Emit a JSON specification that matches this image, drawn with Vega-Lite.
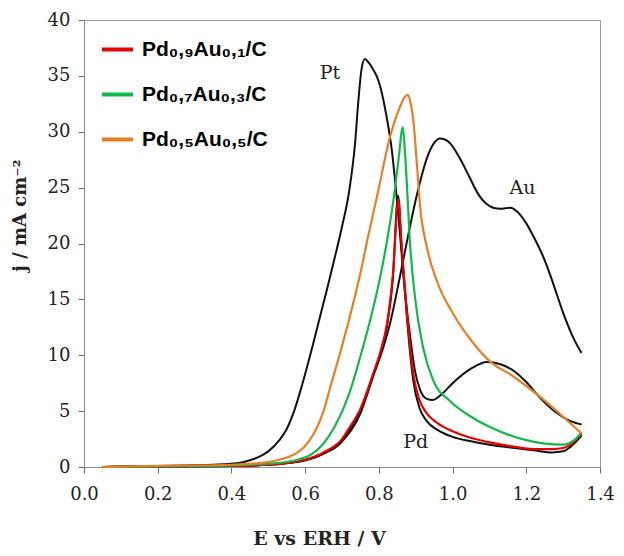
{
  "$schema": "https://vega.github.io/schema/vega-lite/v6.json",
  "width": 516,
  "height": 447,
  "autosize": {"type": "none"},
  "padding": {"left": 84, "top": 20, "right": 24, "bottom": 89},
  "background": "white",
  "config": {
    "view": {"stroke": "#9a9a9a", "strokeWidth": 1},
    "axis": {
      "grid": false,
      "domainColor": "#8a8a8a",
      "tickColor": "#6a6a6a",
      "tickSize": 6,
      "labelFont": "DejaVu Serif",
      "labelFontSize": 18,
      "labelColor": "#222222",
      "titleFont": "DejaVu Serif",
      "titleFontSize": 19,
      "titleFontWeight": "bold",
      "titleColor": "#222222"
    }
  },
  "datasets": {
    "black": [
      {"s": "Pt", "E": 0.05, "j": 0.0}, {"s": "Pt", "E": 0.1, "j": 0.05}, {"s": "Pt", "E": 0.2, "j": 0.1}, {"s": "Pt", "E": 0.3, "j": 0.15}, {"s": "Pt", "E": 0.38, "j": 0.25}, {"s": "Pt", "E": 0.42, "j": 0.35}, {"s": "Pt", "E": 0.45, "j": 0.6}, {"s": "Pt", "E": 0.48, "j": 1.0}, {"s": "Pt", "E": 0.5, "j": 1.4}, {"s": "Pt", "E": 0.53, "j": 2.4}, {"s": "Pt", "E": 0.55, "j": 3.4}, {"s": "Pt", "E": 0.57, "j": 5.0}, {"s": "Pt", "E": 0.594, "j": 7.6}, {"s": "Pt", "E": 0.62, "j": 10.8}, {"s": "Pt", "E": 0.64, "j": 13.4}, {"s": "Pt", "E": 0.66, "j": 16.0}, {"s": "Pt", "E": 0.68, "j": 18.7}, {"s": "Pt", "E": 0.7, "j": 21.5}, {"s": "Pt", "E": 0.72, "j": 24.8}, {"s": "Pt", "E": 0.735, "j": 28.8}, {"s": "Pt", "E": 0.745, "j": 33.0}, {"s": "Pt", "E": 0.753, "j": 35.6}, {"s": "Pt", "E": 0.762, "j": 36.5}, {"s": "Pt", "E": 0.772, "j": 36.2}, {"s": "Pt", "E": 0.784, "j": 35.6}, {"s": "Pt", "E": 0.795, "j": 34.9}, {"s": "Pt", "E": 0.805, "j": 33.9}, {"s": "Pt", "E": 0.815, "j": 32.4}, {"s": "Pt", "E": 0.825, "j": 30.6}, {"s": "Pt", "E": 0.835, "j": 28.4}, {"s": "Pt", "E": 0.845, "j": 25.3}, {"s": "Pt", "E": 0.857, "j": 21.0}, {"s": "Pt", "E": 0.866, "j": 17.4}, {"s": "Pt", "E": 0.875, "j": 14.4}, {"s": "Pt", "E": 0.884, "j": 11.9}, {"s": "Pt", "E": 0.898, "j": 8.6}, {"s": "Pt", "E": 0.912, "j": 6.9}, {"s": "Pt", "E": 0.93, "j": 6.1}, {"s": "Pt", "E": 0.947, "j": 6.0}, {"s": "Pt", "E": 0.97, "j": 6.5}, {"s": "Pt", "E": 1.0, "j": 7.5}, {"s": "Pt", "E": 1.05, "j": 8.8}, {"s": "Pt", "E": 1.093, "j": 9.4}, {"s": "Pt", "E": 1.13, "j": 9.2}, {"s": "Pt", "E": 1.17, "j": 8.5}, {"s": "Pt", "E": 1.2, "j": 7.6}, {"s": "Pt", "E": 1.24, "j": 6.1}, {"s": "Pt", "E": 1.28, "j": 4.9}, {"s": "Pt", "E": 1.32, "j": 4.1}, {"s": "Pt", "E": 1.35, "j": 3.8},
      {"s": "Au", "E": 0.05, "j": 0.0}, {"s": "Au", "E": 0.2, "j": 0.05}, {"s": "Au", "E": 0.4, "j": 0.1}, {"s": "Au", "E": 0.5, "j": 0.2}, {"s": "Au", "E": 0.6, "j": 0.6}, {"s": "Au", "E": 0.65, "j": 1.2}, {"s": "Au", "E": 0.7, "j": 2.3}, {"s": "Au", "E": 0.75, "j": 4.8}, {"s": "Au", "E": 0.785, "j": 8.2}, {"s": "Au", "E": 0.81, "j": 10.5}, {"s": "Au", "E": 0.83, "j": 12.8}, {"s": "Au", "E": 0.857, "j": 17.0}, {"s": "Au", "E": 0.88, "j": 20.8}, {"s": "Au", "E": 0.905, "j": 24.6}, {"s": "Au", "E": 0.93, "j": 27.6}, {"s": "Au", "E": 0.95, "j": 29.0}, {"s": "Au", "E": 0.966, "j": 29.4}, {"s": "Au", "E": 0.985, "j": 29.2}, {"s": "Au", "E": 1.0, "j": 28.7}, {"s": "Au", "E": 1.02, "j": 27.6}, {"s": "Au", "E": 1.045, "j": 26.0}, {"s": "Au", "E": 1.07, "j": 24.4}, {"s": "Au", "E": 1.09, "j": 23.6}, {"s": "Au", "E": 1.11, "j": 23.2}, {"s": "Au", "E": 1.13, "j": 23.1}, {"s": "Au", "E": 1.156, "j": 23.2}, {"s": "Au", "E": 1.18, "j": 22.7}, {"s": "Au", "E": 1.2, "j": 21.8}, {"s": "Au", "E": 1.22, "j": 20.6}, {"s": "Au", "E": 1.25, "j": 18.5}, {"s": "Au", "E": 1.27, "j": 16.7}, {"s": "Au", "E": 1.3, "j": 13.8}, {"s": "Au", "E": 1.33, "j": 11.4}, {"s": "Au", "E": 1.35, "j": 10.2},
      {"s": "Pd", "E": 0.05, "j": 0.0}, {"s": "Pd", "E": 0.2, "j": 0.05}, {"s": "Pd", "E": 0.4, "j": 0.1}, {"s": "Pd", "E": 0.5, "j": 0.2}, {"s": "Pd", "E": 0.55, "j": 0.35}, {"s": "Pd", "E": 0.6, "j": 0.6}, {"s": "Pd", "E": 0.65, "j": 1.2}, {"s": "Pd", "E": 0.7, "j": 2.3}, {"s": "Pd", "E": 0.72, "j": 3.3}, {"s": "Pd", "E": 0.75, "j": 5.0}, {"s": "Pd", "E": 0.785, "j": 8.2}, {"s": "Pd", "E": 0.805, "j": 10.2}, {"s": "Pd", "E": 0.822, "j": 12.6}, {"s": "Pd", "E": 0.838, "j": 16.8}, {"s": "Pd", "E": 0.852, "j": 24.3}, {"s": "Pd", "E": 0.862, "j": 19.5}, {"s": "Pd", "E": 0.876, "j": 13.4}, {"s": "Pd", "E": 0.893, "j": 7.8}, {"s": "Pd", "E": 0.91, "j": 5.3}, {"s": "Pd", "E": 0.93, "j": 4.1}, {"s": "Pd", "E": 0.96, "j": 3.3}, {"s": "Pd", "E": 1.0, "j": 2.7}, {"s": "Pd", "E": 1.05, "j": 2.3}, {"s": "Pd", "E": 1.1, "j": 2.0}, {"s": "Pd", "E": 1.17, "j": 1.7}, {"s": "Pd", "E": 1.22, "j": 1.5}, {"s": "Pd", "E": 1.27, "j": 1.3}, {"s": "Pd", "E": 1.3, "j": 1.4}, {"s": "Pd", "E": 1.32, "j": 1.8}, {"s": "Pd", "E": 1.35, "j": 2.8}
    ],
    "colored": [
      {"s": "Pd₀,₉Au₀,₁/C", "E": 0.05, "j": 0.0}, {"s": "Pd₀,₉Au₀,₁/C", "E": 0.2, "j": 0.05}, {"s": "Pd₀,₉Au₀,₁/C", "E": 0.4, "j": 0.1}, {"s": "Pd₀,₉Au₀,₁/C", "E": 0.5, "j": 0.2}, {"s": "Pd₀,₉Au₀,₁/C", "E": 0.55, "j": 0.35}, {"s": "Pd₀,₉Au₀,₁/C", "E": 0.6, "j": 0.65}, {"s": "Pd₀,₉Au₀,₁/C", "E": 0.65, "j": 1.3}, {"s": "Pd₀,₉Au₀,₁/C", "E": 0.7, "j": 2.5}, {"s": "Pd₀,₉Au₀,₁/C", "E": 0.72, "j": 3.5}, {"s": "Pd₀,₉Au₀,₁/C", "E": 0.75, "j": 5.2}, {"s": "Pd₀,₉Au₀,₁/C", "E": 0.785, "j": 8.4}, {"s": "Pd₀,₉Au₀,₁/C", "E": 0.805, "j": 10.4}, {"s": "Pd₀,₉Au₀,₁/C", "E": 0.822, "j": 12.8}, {"s": "Pd₀,₉Au₀,₁/C", "E": 0.838, "j": 17.2}, {"s": "Pd₀,₉Au₀,₁/C", "E": 0.853, "j": 23.9}, {"s": "Pd₀,₉Au₀,₁/C", "E": 0.862, "j": 19.7}, {"s": "Pd₀,₉Au₀,₁/C", "E": 0.876, "j": 13.8}, {"s": "Pd₀,₉Au₀,₁/C", "E": 0.893, "j": 8.4}, {"s": "Pd₀,₉Au₀,₁/C", "E": 0.91, "j": 6.0}, {"s": "Pd₀,₉Au₀,₁/C", "E": 0.93, "j": 4.8}, {"s": "Pd₀,₉Au₀,₁/C", "E": 0.96, "j": 3.9}, {"s": "Pd₀,₉Au₀,₁/C", "E": 1.0, "j": 3.2}, {"s": "Pd₀,₉Au₀,₁/C", "E": 1.04, "j": 2.7}, {"s": "Pd₀,₉Au₀,₁/C", "E": 1.1, "j": 2.2}, {"s": "Pd₀,₉Au₀,₁/C", "E": 1.17, "j": 1.8}, {"s": "Pd₀,₉Au₀,₁/C", "E": 1.22, "j": 1.6}, {"s": "Pd₀,₉Au₀,₁/C", "E": 1.27, "j": 1.6}, {"s": "Pd₀,₉Au₀,₁/C", "E": 1.3, "j": 1.7}, {"s": "Pd₀,₉Au₀,₁/C", "E": 1.32, "j": 2.0}, {"s": "Pd₀,₉Au₀,₁/C", "E": 1.35, "j": 3.0},
      {"s": "Pd₀,₇Au₀,₃/C", "E": 0.05, "j": 0.0}, {"s": "Pd₀,₇Au₀,₃/C", "E": 0.2, "j": 0.05}, {"s": "Pd₀,₇Au₀,₃/C", "E": 0.4, "j": 0.15}, {"s": "Pd₀,₇Au₀,₃/C", "E": 0.5, "j": 0.3}, {"s": "Pd₀,₇Au₀,₃/C", "E": 0.55, "j": 0.45}, {"s": "Pd₀,₇Au₀,₃/C", "E": 0.58, "j": 0.65}, {"s": "Pd₀,₇Au₀,₃/C", "E": 0.62, "j": 1.2}, {"s": "Pd₀,₇Au₀,₃/C", "E": 0.65, "j": 2.1}, {"s": "Pd₀,₇Au₀,₃/C", "E": 0.68, "j": 3.6}, {"s": "Pd₀,₇Au₀,₃/C", "E": 0.72, "j": 6.6}, {"s": "Pd₀,₇Au₀,₃/C", "E": 0.749, "j": 9.8}, {"s": "Pd₀,₇Au₀,₃/C", "E": 0.78, "j": 13.6}, {"s": "Pd₀,₇Au₀,₃/C", "E": 0.803, "j": 16.9}, {"s": "Pd₀,₇Au₀,₃/C", "E": 0.825, "j": 20.8}, {"s": "Pd₀,₇Au₀,₃/C", "E": 0.84, "j": 24.0}, {"s": "Pd₀,₇Au₀,₃/C", "E": 0.853, "j": 27.4}, {"s": "Pd₀,₇Au₀,₃/C", "E": 0.865, "j": 30.4}, {"s": "Pd₀,₇Au₀,₃/C", "E": 0.87, "j": 28.6}, {"s": "Pd₀,₇Au₀,₃/C", "E": 0.876, "j": 25.3}, {"s": "Pd₀,₇Au₀,₃/C", "E": 0.884, "j": 20.3}, {"s": "Pd₀,₇Au₀,₃/C", "E": 0.898, "j": 15.2}, {"s": "Pd₀,₇Au₀,₃/C", "E": 0.92, "j": 10.7}, {"s": "Pd₀,₇Au₀,₃/C", "E": 0.947, "j": 7.8}, {"s": "Pd₀,₇Au₀,₃/C", "E": 0.993, "j": 5.9}, {"s": "Pd₀,₇Au₀,₃/C", "E": 1.05, "j": 4.5}, {"s": "Pd₀,₇Au₀,₃/C", "E": 1.1, "j": 3.6}, {"s": "Pd₀,₇Au₀,₃/C", "E": 1.15, "j": 2.9}, {"s": "Pd₀,₇Au₀,₃/C", "E": 1.2, "j": 2.4}, {"s": "Pd₀,₇Au₀,₃/C", "E": 1.25, "j": 2.1}, {"s": "Pd₀,₇Au₀,₃/C", "E": 1.3, "j": 2.0}, {"s": "Pd₀,₇Au₀,₃/C", "E": 1.33, "j": 2.4}, {"s": "Pd₀,₇Au₀,₃/C", "E": 1.35, "j": 3.1},
      {"s": "Pd₀,₅Au₀,₅/C", "E": 0.05, "j": 0.0}, {"s": "Pd₀,₅Au₀,₅/C", "E": 0.2, "j": 0.1}, {"s": "Pd₀,₅Au₀,₅/C", "E": 0.4, "j": 0.2}, {"s": "Pd₀,₅Au₀,₅/C", "E": 0.5, "j": 0.45}, {"s": "Pd₀,₅Au₀,₅/C", "E": 0.55, "j": 0.85}, {"s": "Pd₀,₅Au₀,₅/C", "E": 0.58, "j": 1.3}, {"s": "Pd₀,₅Au₀,₅/C", "E": 0.61, "j": 2.3}, {"s": "Pd₀,₅Au₀,₅/C", "E": 0.63, "j": 3.4}, {"s": "Pd₀,₅Au₀,₅/C", "E": 0.65, "j": 5.0}, {"s": "Pd₀,₅Au₀,₅/C", "E": 0.667, "j": 7.0}, {"s": "Pd₀,₅Au₀,₅/C", "E": 0.7, "j": 10.8}, {"s": "Pd₀,₅Au₀,₅/C", "E": 0.727, "j": 14.2}, {"s": "Pd₀,₅Au₀,₅/C", "E": 0.749, "j": 17.2}, {"s": "Pd₀,₅Au₀,₅/C", "E": 0.772, "j": 20.8}, {"s": "Pd₀,₅Au₀,₅/C", "E": 0.795, "j": 24.2}, {"s": "Pd₀,₅Au₀,₅/C", "E": 0.83, "j": 29.5}, {"s": "Pd₀,₅Au₀,₅/C", "E": 0.857, "j": 32.2}, {"s": "Pd₀,₅Au₀,₅/C", "E": 0.87, "j": 33.1}, {"s": "Pd₀,₅Au₀,₅/C", "E": 0.879, "j": 33.3}, {"s": "Pd₀,₅Au₀,₅/C", "E": 0.886, "j": 32.6}, {"s": "Pd₀,₅Au₀,₅/C", "E": 0.893, "j": 31.2}, {"s": "Pd₀,₅Au₀,₅/C", "E": 0.903, "j": 27.2}, {"s": "Pd₀,₅Au₀,₅/C", "E": 0.912, "j": 23.3}, {"s": "Pd₀,₅Au₀,₅/C", "E": 0.93, "j": 19.7}, {"s": "Pd₀,₅Au₀,₅/C", "E": 0.958, "j": 16.6}, {"s": "Pd₀,₅Au₀,₅/C", "E": 1.0, "j": 13.8}, {"s": "Pd₀,₅Au₀,₅/C", "E": 1.056, "j": 11.1}, {"s": "Pd₀,₅Au₀,₅/C", "E": 1.1, "j": 9.5}, {"s": "Pd₀,₅Au₀,₅/C", "E": 1.165, "j": 8.1}, {"s": "Pd₀,₅Au₀,₅/C", "E": 1.237, "j": 6.3}, {"s": "Pd₀,₅Au₀,₅/C", "E": 1.3, "j": 4.5}, {"s": "Pd₀,₅Au₀,₅/C", "E": 1.35, "j": 3.0}
    ],
    "labels": [
      {"label": "Pt", "E": 0.667, "j": 35.3},
      {"label": "Au", "E": 1.19, "j": 25.0},
      {"label": "Pd", "E": 0.9, "j": 2.2}
    ]
  },
  "encoding": {
    "x": {
      "field": "E", "type": "quantitative",
      "scale": {"domain": [0, 1.4], "nice": false, "zero": false},
      "axis": {
        "title": "E vs ERH / V",
        "values": [0, 0.2, 0.4, 0.6, 0.8, 1.0, 1.2, 1.4],
        "format": ".1f",
        "labelPadding": 12,
        "titleX": 235, "titleY": 71,
        "titleAlign": "center", "titleBaseline": "middle",
        "labelFlush": false
      }
    },
    "y": {
      "field": "j", "type": "quantitative",
      "scale": {"domain": [0, 40], "nice": false},
      "axis": {
        "title": "j / mA cm⁻²",
        "titleFontSize": 18,
        "values": [0, 5, 10, 15, 20, 25, 30, 35, 40],
        "labelPadding": 8,
        "titleX": -64, "titleY": 195,
        "titleAngle": -90,
        "titleAlign": "center", "titleBaseline": "middle",
        "labelFlush": false
      }
    }
  },
  "layer": [
    {
      "data": {"name": "black"},
      "mark": {"type": "line", "interpolate": "monotone", "color": "#111111", "strokeWidth": 2},
      "encoding": {"detail": {"field": "s", "type": "nominal"}}
    },
    {
      "data": {"name": "colored"},
      "mark": {"type": "line", "interpolate": "monotone", "strokeWidth": 2.2},
      "encoding": {
        "color": {
          "field": "s", "type": "nominal",
          "scale": {
            "domain": ["Pd₀,₉Au₀,₁/C", "Pd₀,₇Au₀,₃/C", "Pd₀,₅Au₀,₅/C"],
            "range": ["#e60000", "#12b84a", "#e57f25"]
          },
          "legend": {
            "title": null,
            "orient": "none",
            "legendX": 16,
            "legendY": 12,
            "symbolType": "stroke",
            "symbolSize": 961,
            "symbolStrokeWidth": 4,
            "labelFont": "Liberation Sans",
            "labelFontWeight": "bold",
            "labelFontSize": 21,
            "labelColor": "#000000",
            "labelOffset": 7,
            "rowPadding": 17,
            "labelLimit": 300
          }
        }
      }
    },
    {
      "data": {"name": "labels"},
      "mark": {"type": "text", "font": "DejaVu Serif", "fontSize": 19, "color": "#222222", "align": "center", "baseline": "middle"},
      "encoding": {"text": {"field": "label", "type": "nominal"}}
    }
  ]
}
